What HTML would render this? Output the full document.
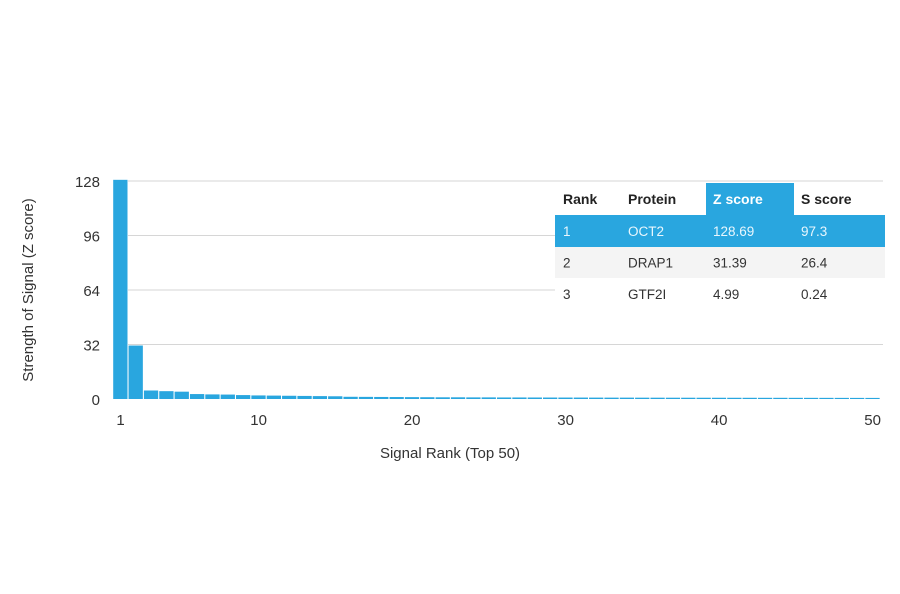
<!DOCTYPE html>
<html><head><meta charset="utf-8"><style>
body{margin:0;background:#fff;width:900px;height:594px;overflow:hidden;font-family:"Liberation Sans",sans-serif}
svg{position:absolute;left:0;top:0}
</style></head><body>
<svg id="chart" width="900" height="594">
<g id="grid"></g><g id="bars"></g><g id="axes"></g>
<g id="table"></g>
</svg>
<script>
const ranks=[];for(let i=1;i<=50;i++)ranks.push(i);
const zScores=[128.69,31.39,4.99,4.6,4.3,2.9,2.7,2.6,2.3,2.1,2.0,1.9,1.8,1.7,1.6,1.3,1.25,1.2,1.15,1.1,1.05,1.0,1.0,0.95,0.95,0.9,0.9,0.88,0.86,0.85,0.84,0.82,0.8,0.8,0.78,0.77,0.76,0.75,0.74,0.73,0.72,0.71,0.7,0.7,0.69,0.68,0.67,0.66,0.65,0.64];
const yTicks=[0,32,64,96,128];
const xTicks=[1,10,20,30,40,50];
const tableHead=["Rank","Protein","Z score","S score"];
const tableRows=[["1","OCT2","128.69","97.3"],["2","DRAP1","31.39","26.4"],["3","GTF2I","4.99","0.24"]];
const NS="http://www.w3.org/2000/svg";
function el(t,a,p){const e=document.createElementNS(NS,t);for(const k in a)e.setAttribute(k,a[k]);p.appendChild(e);return e;}
const y=v=>399-v*(218/128);
const x=r=>120.5+(r-1)*15.35;
const G=document.getElementById('grid'),B=document.getElementById('bars'),A=document.getElementById('axes'),T=document.getElementById('table');
yTicks.forEach(t=>{
 if(t>0){const l=el('line',{x1:128,x2:883,y1:y(t),y2:y(t),stroke:'#d6d6d6','stroke-width':1},G);
 
 }
 const tx=el('text',{x:100,y:y(t)+6,'text-anchor':'end','font-size':15,fill:'#333'},A);tx.textContent=t;
 
 
});
xTicks.forEach(t=>{
 const tx=el('text',{x:x(t),y:425,'text-anchor':'middle','font-size':15,fill:'#333'},A);tx.textContent=t;
 
 
});
ranks.forEach((r,i)=>{
 const v=zScores[i];
 const b=el('rect',{x:x(r)-7.3,y:y(v),width:14.3,height:399-y(v),fill:'#29a6df'},B);
 
 
});
let t1=el('text',{x:450,y:458,'text-anchor':'middle','font-size':15,fill:'#333'},A);t1.textContent='Signal Rank (Top 50)';


let t2=el('text',{x:0,y:0,'text-anchor':'middle','font-size':15,fill:'#333',transform:'translate(33,290) rotate(-90)'},A);t2.textContent='Strength of Signal (Z score)';


// table
el('rect',{x:555,y:183,width:330,height:127,fill:'#fff'},T);
el('rect',{x:706,y:183,width:88,height:32,fill:'#29a6df'},T);
el('rect',{x:555,y:215,width:330,height:32,fill:'#29a6df'},T);
el('rect',{x:555,y:247,width:330,height:31,fill:'#f4f4f4'},T);
const cx=[563,628,713,801];
tableHead.forEach((h,i)=>{
 const tx=el('text',{x:cx[i],y:204,'font-size':14,'font-weight':'bold',fill:i==2?'#fff':'#222'},T);tx.textContent=h;
 
 
});
tableRows.forEach((row,ri)=>{
 row.forEach((c,ci)=>{
  const tx=el('text',{x:cx[ci],y:236+ri*31.5,'font-size':13.5,fill:ri==0?'#e8f6fd':'#333'},T);tx.textContent=c;
  
  
 });
});
</script>
</body></html>
